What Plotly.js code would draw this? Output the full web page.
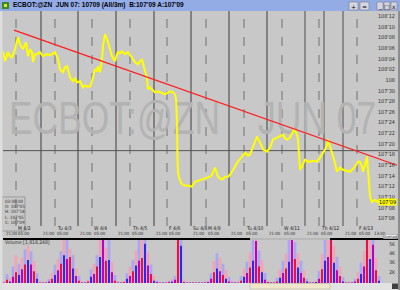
<!DOCTYPE html>
<html><head><meta charset="utf-8">
<script src="https://cdn.plot.ly/plotly-3.0.1.min.js"></script>
<style>html,body{margin:0;padding:0;background:#c8c8c8;}#chart{width:400px;height:290px;}</style>
</head><body><div id="chart"></div>
<script>
// ---- DATA (x = bar index along the compressed session time axis) ----
const priceBar = [3,5,8,10,12,15,18,20,23,26,28,30,32,33,35,37,40,43,47,50,52,55,58,60,63,65,67,70,73,75,77,80,83,85,87,90,92,95,97,98,100,102,103,105,107,108,110,112,115,117,118,120,122,125,128,130,132,135,138,140,142,144,146,147,148,150,152,155,158,160,163,165,168,170,173,175,176,177,177.5,178,179,181,183,186,189,192,195,198,202,205,207,210,212,215,218,220,222,225,228,230,232,235,237,240,242,245,248,250,253,255,257,260,263,265,267,270,273,275,277,280,283,285,287,290,292,294,296,297,298,299,300,302,305,308,310,313,317,320,322,325,327,328,330,332,335,337,340,343,346,350,352,355,358,360,362,363,365,367,368,369,370,372,375,378,380];
const priceClose = [108.169,108.110,108.163,108.139,108.133,108.180,108.251,108.210,108.180,108.222,108.139,108.180,108.163,108.104,108.151,108.151,108.163,108.139,108.151,108.145,108.151,108.163,108.122,108.063,108.045,108.074,108.080,108.015,107.992,108.009,107.986,107.992,107.956,107.968,107.962,107.962,107.992,108.063,108.051,108.080,108.045,108.122,108.198,108.269,108.239,108.222,108.180,108.139,108.110,108.151,108.163,108.157,108.169,108.151,108.163,108.145,108.133,108.104,108.092,108.110,108.122,108.074,108.033,108.015,107.945,107.956,107.945,107.927,107.933,107.927,107.921,107.915,107.927,107.933,107.927,107.915,107.886,107.768,107.532,107.455,107.432,107.396,107.385,107.379,107.379,107.373,107.402,107.408,107.414,107.420,107.426,107.432,107.443,107.485,107.432,107.420,107.414,107.432,107.432,107.443,107.461,107.491,107.514,107.532,107.550,107.573,107.556,107.561,107.609,107.638,107.668,107.632,107.591,107.585,107.579,107.603,107.650,107.656,107.662,107.668,107.679,107.656,107.650,107.662,107.685,107.709,107.691,107.679,107.650,107.532,107.473,107.491,107.532,107.520,107.520,107.526,107.520,107.544,107.561,107.591,107.620,107.650,107.609,107.573,107.514,107.461,107.485,107.473,107.467,107.461,107.473,107.491,107.520,107.520,107.491,107.461,107.502,107.550,107.473,107.414,107.314,107.284,107.296,107.284,107.296];
const lastPrice = 107.28125;
const lastPriceText = "107'09";

const trendBar = [14, 397];
const trendPrice = [108.292, 107.499];
const crosshairPrice = 107.585;

const sessionOpenBar = [41, 78, 116, 154, 191, 229, 267];
const sessionOpenBarGray = [305, 324, 343];
const dayStartBar = [16, 55, 92, 130, 167, 206, 244, 282, 319, 357];
const dayLabels = ['M 4/2','Tu 4/3','W 4/4','Th 4/5','F 4/6','M 4/9','Tu 4/10','W 4/11','Th 4/12','F 4/13'];
const extraDayBar = [191];
const extraDayLabels = ['Su 4/8'];
const timeLabelBar = [4,16,41,55,78,92,116,130,154,167,191,206,229,244,267,282,305,319,343,357,372];
const timeLabelText = ['21:00','05:00','21:00','05:00','21:00','05:00','21:00','05:00','21:00','05:00','21:00','05:00','21:00','05:00','21:00','05:00','21:00','05:00','21:00','05:00','13:00'];

const priceTickVals = [107.125,107.1875,107.25,107.3125,107.375,107.4375,107.5,107.5625,107.625,107.6875,107.75,107.8125,107.875,107.9375,108,108.0625,108.125,108.1875,108.25,108.3125,108.375];
const priceTickText = ["107'04","107'06","107'08","107'10","107'12","107'14","107'16","107'18","107'20","107'22","107'24","107'26","107'28","107'30","108","108'02","108'04","108'06","108'08","108'10","108'12"];

// volume, thousands of contracts, one bar every 3 index units starting at 4
const volPale = [1.0,1.8,1.4,2.6,3.8,2.9,3.5,4.4,4.8,4.2,3.2,1.9,1.1,0.95,1.0,1.3,1.9,2.8,3.4,4.2,5.6,5.5,4.5,3.8,2.4,1.6,1.0,0.95,1.2,2.3,2.9,3.8,5.6,5.6,4.6,5.6,3.1,1.7,1.0,0.95,1.1,1.9,2.6,3.3,4.3,5.6,5.6,5.4,4.1,2.8,1.6,1.1,0.95,0.9,0.95,1.1,1.3,1.6,5.6,5.6,1.2,0.95,0.9,0.9,0.95,0.9,0.95,1.0,1.1,1.9,3.2,4.0,3.5,2.9,2.2,1.5,1.1,0.95,1.0,1.6,2.4,3.1,4.1,5.6,5.4,4.3,3.3,1.9,1.1,0.95,1.0,1.4,2.3,3.2,4.0,5.6,5.6,5.2,4.0,3.2,2.2,1.3,1.0,0.95,1.1,2.1,3.9,5.6,5.6,5.6,4.8,3.6,2.6,1.5,1.0,0.95,1.0,1.3,2.0,3.0,4.2,5.6,5.6,5.4,3.5,1.6];
const volCore = [0.9,1.2,1.0,1.5,2.0,1.7,2.3,2.8,3.3,2.8,2.1,1.3,0.9,0.9,0.9,1.0,1.3,1.7,2.2,2.9,3.8,3.4,3.6,2.4,1.6,1.1,0.9,0.9,1.0,1.5,1.8,2.6,3.6,5.6,3.2,3.3,2.0,1.1,0.9,0.9,0.95,1.3,1.6,2.1,2.7,3.2,3.5,5.0,2.7,1.8,1.1,0.95,0.9,0.9,0.9,0.95,1.0,1.2,5.6,4.8,0.95,0.9,0.9,0.9,0.9,0.9,0.9,0.9,0.95,1.3,2.0,2.4,2.1,1.7,1.3,1.0,0.9,0.9,0.9,1.1,1.5,1.9,2.5,3.2,5.3,2.6,2.0,1.2,0.95,0.9,0.9,1.0,1.4,1.9,2.4,3.1,5.6,3.4,2.5,1.9,1.4,1.0,0.9,0.9,0.95,1.3,2.3,3.2,3.6,5.6,3.0,2.2,1.6,1.0,0.9,0.9,0.9,1.0,1.3,1.8,2.6,5.6,3.4,4.9,2.2,1.1];
const volTickVals = [1,2,3,4,5];
const volTickText = ['1K','2K','3K','4K','5K'];
const volumeTitle = 'Volume [1,818,248]';
const titleText = "ECBOT:@ZN\u00a0\u00a0JUN 07: 10709 (All/3m)\u00a0\u00a0B:107'09 A:107'09";
const infoLines = ['03:00:00',"O: 107'05","H: 107'18","L: 107'05","C: 107'09"];
const watermarkParts = ['ECBOT:@ZN', 'JUN 07'];
const watermarkBar = [9, 258];

// ---- helpers for layout in pixel space ----
const W = 400, H = 290;
const px = v => v / W;
const py = v => 1 - v / H;
const NARROW = "'Liberation Sans Narrow', 'DejaVu Sans Condensed', 'Arial Narrow', 'Liberation Sans', sans-serif";
const volBar = volPale.map((_, i) => 4 + 3 * i);

const traces = [
  {x:watermarkBar, y:[107.75, 107.75], mode:'text', text:watermarkParts, textposition:'middle right',
   textfont:{family:'Liberation Sans, Arial, sans-serif', size:46, color:'#b3b3b3'}, hoverinfo:'skip', xaxis:'x', yaxis:'y'},
  {x:priceBar, y:priceClose, mode:'lines', line:{color:'#ffff00', width:2}, xaxis:'x', yaxis:'y'},
  {x:trendBar, y:trendPrice, mode:'lines', line:{color:'#ff1a1a', width:1.2}, xaxis:'x', yaxis:'y'},
  {type:'bar', x:volBar, y:volPale, width:2.8, xaxis:'x2', yaxis:'y2',
   marker:{color:volBar.map((_, i) => i % 2 ? '#a9a6f2' : '#f2a4b2'), line:{width:0}}},
  {type:'bar', x:volBar, y:volCore, width:2.0, xaxis:'x2', yaxis:'y2',
   marker:{color:volBar.map((_, i) => ['#c000c0','#ee1040','#2a2aee'][i % 3]), line:{width:0}}}
];

const shapes = [];
// window chrome
shapes.push({type:'rect', xref:'paper', yref:'paper', x0:0, x1:1, y0:py(11), y1:1, fillcolor:'#93ace6', line:{width:0}, layer:'above'});
shapes.push({type:'rect', xref:'paper', yref:'paper', x0:px(2), x1:px(9), y0:py(9), y1:py(2), fillcolor:'#3a8a2a', line:{width:0}, layer:'above'});
shapes.push({type:'rect', xref:'paper', yref:'paper', x0:px(4), x1:px(7), y0:py(7), y1:py(4), fillcolor:'#e8e020', line:{width:0}, layer:'above'});
[[349,358],[360,369],[377,383],[384,390],[391,397]].forEach(b => shapes.push({type:'rect', xref:'paper', yref:'paper', x0:px(b[0]), x1:px(b[1]), y0:py(10), y1:py(2), fillcolor:'#d6d6de', line:{color:'#7a7a8a', width:0.6}, layer:'above'}));
// vertical session lines
sessionOpenBar.forEach(b => shapes.push({type:'line', xref:'x', yref:'paper', x0:b, x1:b, y0:py(226), y1:py(11), line:{color:'#3c3c3c', width:1}, layer:'below'}));
sessionOpenBarGray.forEach(b => shapes.push({type:'line', xref:'x', yref:'paper', x0:b, x1:b, y0:py(226), y1:py(11), line:{color:'#8a8a8a', width:2}, layer:'below'}));
dayStartBar.forEach(b => shapes.push({type:'line', xref:'x', yref:'paper', x0:b, x1:b, y0:py(226), y1:py(11), line:{color:'#707070', width:1, dash:'dash'}, layer:'below'}));
// crosshair
shapes.push({type:'line', xref:'paper', yref:'y', x0:px(3), x1:px(398), y0:crosshairPrice, y1:crosshairPrice, line:{color:'#555555', width:1}, layer:'below'});
// panel separator
shapes.push({type:'line', xref:'paper', yref:'paper', x0:px(3), x1:px(398), y0:py(239), y1:py(239), line:{color:'#000000', width:2}, layer:'above'});
shapes.push({type:'line', xref:'paper', yref:'paper', x0:px(250), x1:px(330), y0:py(239), y1:py(239), line:{color:'#b8b8b8', width:2}, layer:'above'});
// bottom scroll bar
shapes.push({type:'rect', xref:'paper', yref:'paper', x0:0, x1:1, y0:0, y1:py(283), fillcolor:'#e2e2e2', line:{width:0}, layer:'above'});
shapes.push({type:'rect', xref:'paper', yref:'paper', x0:px(250), x1:px(330), y0:py(289), y1:py(283.5), fillcolor:'#efe6cc', line:{color:'#b0a890', width:0.5}, layer:'above'});
shapes.push({type:'rect', xref:'paper', yref:'paper', x0:px(392), x1:px(398), y0:py(289), y1:py(283.5), fillcolor:'#404040', line:{width:0}, layer:'above'});
// info box
shapes.push({type:'rect', xref:'paper', yref:'paper', x0:px(2), x1:px(25), y0:py(231), y1:py(197), fillcolor:'rgba(0,0,0,0)', line:{color:'#9a9a9a', width:1}, layer:'above'});
// window edges
shapes.push({type:'rect', xref:'paper', yref:'paper', x0:0, x1:px(2.5), y0:0, y1:py(11), fillcolor:'#dedede', line:{width:0}, layer:'above'});
shapes.push({type:'rect', xref:'paper', yref:'paper', x0:px(398), x1:1, y0:0, y1:py(11), fillcolor:'#8c8c8c', line:{width:0}, layer:'above'});

const annotations = [];
const ann = (o) => annotations.push(Object.assign({showarrow:false, borderpad:0}, o));
ann({xref:'paper', yref:'paper', x:px(12), y:py(5.5), xanchor:'left', yanchor:'middle', text:titleText, font:{family:'Liberation Sans, Arial, sans-serif', size:6.5, color:'#000000', weight:'bold'}});
['+','=','_','□','x'].forEach((g, i) => ann({xref:'paper', yref:'paper', x:px([353.5,364.5,380,387,394][i]), y:py(6), xanchor:'center', yanchor:'middle', text:g, font:{family:'DejaVu Sans', size:6, color:'#000'}}));
dayStartBar.forEach((b, i) => ann({xref:'x', yref:'paper', x:b + 1, y:py(227.5), xanchor:'left', yanchor:'middle', text:dayLabels[i], font:{family:NARROW, size:5, color:'#202020'}}));
extraDayBar.forEach((b, i) => ann({xref:'x', yref:'paper', x:b + 1, y:py(227.5), xanchor:'left', yanchor:'middle', text:extraDayLabels[i], font:{family:NARROW, size:5, color:'#202020'}}));
timeLabelBar.forEach((b, i) => ann({xref:'x', yref:'paper', x:b + 1, y:py(233), xanchor:'left', yanchor:'middle', text:timeLabelText[i], font:{family:NARROW, size:4.4, color:'#303030'}}));
ann({xref:'paper', yref:'y', x:px(397), y:lastPrice, xanchor:'right', yanchor:'middle', text:lastPriceText, bgcolor:'#ffff00', font:{family:NARROW, size:5.5, color:'#000'}});
ann({xref:'paper', yref:'paper', x:px(4), y:py(242.5), xanchor:'left', yanchor:'middle', text:volumeTitle, font:{family:NARROW, size:5, color:'#303030'}});
ann({xref:'paper', yref:'paper', x:px(390), y:py(236.5), xanchor:'center', yanchor:'middle', text:'Overlaid', bgcolor:'#f2f2f2', bordercolor:'#8a8a8a', borderwidth:0.5, font:{family:NARROW, size:3.6, color:'#202020'}});
infoLines.forEach((t, i) => ann({xref:'paper', yref:'paper', x:px(3.5), y:py(201 + i * 5.4), xanchor:'left', yanchor:'middle', text:t, font:{family:NARROW, size:4.5, color:'#303030'}}));

const layout = {
  width:W, height:H, margin:{l:0, r:0, t:0, b:0, pad:0},
  paper_bgcolor:'#c8c8c8', plot_bgcolor:'#c8c8c8', showlegend:false, barmode:'overlay',
  xaxis:{domain:[px(3), px(398)], range:[3, 398], anchor:'y', showticklabels:false, showgrid:false, zeroline:false, showline:false, ticks:''},
  yaxis:{domain:[py(231), py(11)], range:[107.1133, 108.4045], side:'right', anchor:'x', ticklabelposition:'inside',
         tickvals:priceTickVals, ticktext:priceTickText, ticks:'', showgrid:false, zeroline:false, showline:false,
         tickfont:{family:NARROW, size:5.5, color:'#303030'}},
  xaxis2:{domain:[px(3), px(398)], range:[3, 398], anchor:'y2', matches:'x', showticklabels:false, showgrid:false, zeroline:false, showline:false, ticks:''},
  yaxis2:{domain:[py(283), py(240)], range:[0.85, 5.41], side:'right', anchor:'x2', ticklabelposition:'inside',
          tickvals:volTickVals, ticktext:volTickText, ticks:'', showgrid:false, zeroline:false, showline:false,
          tickfont:{family:NARROW, size:5, color:'#303030'}},
  shapes:shapes, annotations:annotations
};
Plotly.newPlot('chart', traces, layout, {staticPlot:true, displayModeBar:false}).then(gd => {
  // condense the watermark glyphs horizontally, keeping their left edge in place
  gd.querySelectorAll('.scatterlayer .trace:first-child .textpoint text').forEach(t => {
    const x = parseFloat(t.getAttribute('x')) || 0;
    const prev = t.getAttribute('transform') || '';
    t.setAttribute('transform', prev + ' translate(' + x + ',0) scale(0.77,1) translate(' + (-x) + ',0)');
  });
});
</script></body></html>
